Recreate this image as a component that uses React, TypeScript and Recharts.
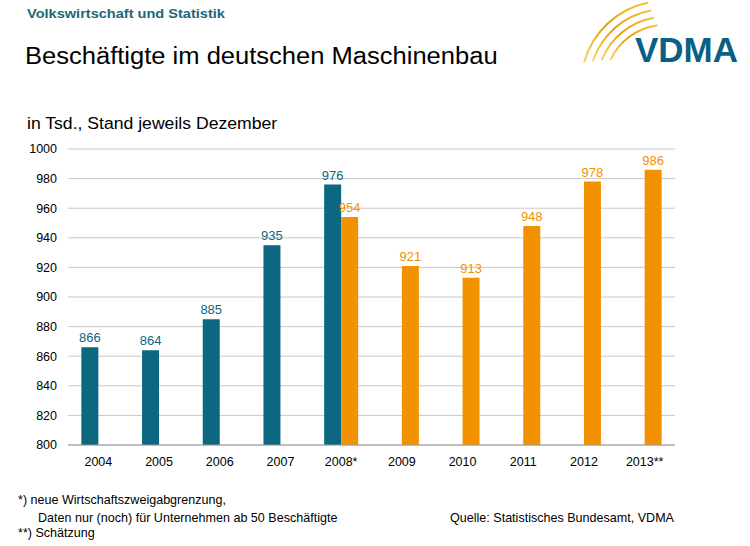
import React from 'react';
import {
  BarChart,
  Bar,
  XAxis,
  YAxis,
  CartesianGrid,
  LabelList,
} from 'recharts';

// Beschäftigte in Tsd., jeweils Dezember
const years = ['2004', '2005', '2006', '2007', '2008*', '2009', '2010', '2011', '2012', '2013**'];
const altAbgrenzung = [866, 864, 885, 935, 976, null, null, null, null, null];
const neuAbgrenzung = [null, null, null, null, 954, 921, 913, 948, 978, 986];
const yTicks = [800, 820, 840, 860, 880, 900, 920, 940, 960, 980, 1000];

const TEAL = '#0b6880';
const ORANGE = '#f39200';

const data = years.map((year, i) => ({
  year,
  alt: altAbgrenzung[i],
  neu: neuAbgrenzung[i],
}));

const font = 'Arial, "Liberation Sans", sans-serif';

const stretched = (sx: number): React.CSSProperties => ({
  transform: `scaleX(${sx})`,
  transformOrigin: 'left top',
  whiteSpace: 'nowrap',
});

const Logo = () => {
  const cx = 95;
  const cy = 85;
  const arcs = [
    { r: 60, a0: 205, a1: 262 },
    { r: 68, a0: 202, a1: 260 },
    { r: 76, a0: 199, a1: 259 },
    { r: 84, a0: 196, a1: 258 },
  ];
  return (
    <svg width={180} height={80} style={{ position: 'absolute', left: 570, top: 0 }}>
      <defs>
        <linearGradient id="gold" x1="0" y1="1" x2="1" y2="0">
          <stop offset="0%" stopColor="#f7d26a" />
          <stop offset="50%" stopColor="#e9a000" />
          <stop offset="100%" stopColor="#f3c340" />
        </linearGradient>
      </defs>
      {arcs.map(({ r, a0, a1 }) => {
        const t0 = (a0 * Math.PI) / 180;
        const t1 = (a1 * Math.PI) / 180;
        const x0 = cx + r * Math.cos(t0);
        const y0 = cy + r * Math.sin(t0);
        const x1 = cx + r * Math.cos(t1);
        const y1 = cy + r * Math.sin(t1);
        return (
          <path
            key={r}
            d={`M${x0},${y0} A${r},${r} 0 0 1 ${x1},${y1}`}
            fill="none"
            stroke="url(#gold)"
            strokeWidth={2}
            strokeLinecap="round"
          />
        );
      })}
      <text x={65} y={62} fontFamily={font} fontWeight={700} fontSize={35} fill="#0a5f84">
        VDMA
      </text>
    </svg>
  );
};

const note: React.CSSProperties = {
  position: 'absolute',
  fontSize: 13.5,
  lineHeight: '15px',
  color: '#000',
  ...stretched(0.93),
};

export default function App() {
  return (
    <div
      style={{
        position: 'absolute',
        left: 0,
        top: 0,
        width: 750,
        height: 546,
        background: '#fff',
        fontFamily: font,
        overflow: 'hidden',
      }}
    >
      <div style={{ position: 'absolute', left: 27, top: 6, fontSize: 13, fontWeight: 700, color: '#1b6874', ...stretched(1.12) }}>
        Volkswirtschaft und Statistik
      </div>
      <div style={{ position: 'absolute', left: 25, top: 43, fontSize: 23, color: '#000', ...stretched(1.11) }}>
        Beschäftigte im deutschen Maschinenbau
      </div>
      <Logo />
      <div style={{ position: 'absolute', left: 27, top: 115, fontSize: 16, color: '#000', ...stretched(1.1) }}>
        in Tsd., Stand jeweils Dezember
      </div>

      <div style={{ position: 'absolute', left: 0, top: 0 }}>
        <BarChart
          width={750}
          height={546}
          data={data}
          margin={{ top: 149, right: 75, bottom: 71, left: 8 }}
          barGap={0}
          barCategoryGap="22%"
        >
          <CartesianGrid vertical={false} stroke="#c8c8c8" />
          <XAxis
            dataKey="year"
            height={30}
            tickLine={false}
            axisLine={{ stroke: '#9a9a9a' }}
            tick={{ fill: '#000', fontSize: 12.5, fontFamily: font }}
            tickMargin={6}
          />
          <YAxis
            width={60}
            domain={[800, 1000]}
            ticks={yTicks}
            axisLine={false}
            tickLine={false}
            tick={{ fill: '#000', fontSize: 12.5, fontFamily: font }}
            tickMargin={5}
          />
          <Bar dataKey="alt" fill={TEAL} isAnimationActive={false}>
            <LabelList dataKey="alt" position="top" fill={TEAL} fontSize={13} fontFamily={font} offset={5} />
          </Bar>
          <Bar dataKey="neu" fill={ORANGE} isAnimationActive={false}>
            <LabelList dataKey="neu" position="top" fill={ORANGE} fontSize={13} fontFamily={font} offset={5} />
          </Bar>
        </BarChart>
      </div>

      <div style={{ ...note, left: 18, top: 492 }}>*) neue Wirtschaftszweigabgrenzung,</div>
      <div style={{ ...note, left: 38, top: 510 }}>Daten nur (noch) für Unternehmen ab 50 Beschäftigte</div>
      <div style={{ ...note, left: 18, top: 525 }}>**) Schätzung</div>
      <div style={{ ...note, left: 450, top: 510 }}>Quelle: Statistisches Bundesamt, VDMA</div>
    </div>
  );
}
